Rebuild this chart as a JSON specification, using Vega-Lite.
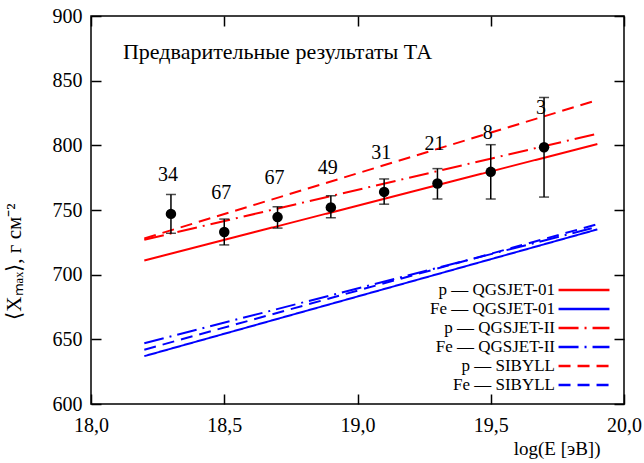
{
  "$schema": "https://vega.github.io/schema/vega-lite/v6.json",
  "width": 533,
  "height": 388,
  "autosize": {"type": "none"},
  "padding": {"left": 91, "top": 16, "right": 20, "bottom": 59},
  "background": "white",
  "config": {
    "font": "Liberation Serif, Times New Roman, serif",
    "view": {"stroke": "black", "strokeWidth": 1.5},
    "axis": {"grid": false, "labelFont": "Liberation Serif, Times New Roman, serif", "titleFont": "Liberation Serif, Times New Roman, serif", "labelFontSize": 20, "titleFontSize": 19, "labelColor": "black", "titleColor": "black", "titleFontWeight": "normal", "domain": false, "ticks": true, "tickColor": "black", "tickWidth": 1.5, "tickSize": 10, "offset": -10, "labelFlush": false}
  },
  "datasets": {
    "lines": [
      {"series": "p — QGSJET-01", "logE": 18.2, "xmax": 711},
      {"series": "p — QGSJET-01", "logE": 19.9, "xmax": 801},
      {"series": "Fe — QGSJET-01", "logE": 18.2, "xmax": 637},
      {"series": "Fe — QGSJET-01", "logE": 19.9, "xmax": 735},
      {"series": "p — QGSJET-II", "logE": 18.2, "xmax": 727},
      {"series": "p — QGSJET-II", "logE": 19.9, "xmax": 809},
      {"series": "Fe — QGSJET-II", "logE": 18.2, "xmax": 647},
      {"series": "Fe — QGSJET-II", "logE": 19.9, "xmax": 737},
      {"series": "p — SIBYLL", "logE": 18.2, "xmax": 728},
      {"series": "p — SIBYLL", "logE": 19.9, "xmax": 835},
      {"series": "Fe — SIBYLL", "logE": 18.2, "xmax": 642},
      {"series": "Fe — SIBYLL", "logE": 19.9, "xmax": 739}
    ],
    "points": [
      {"logE": 18.3, "xmax": 747, "lo": 732, "hi": 762, "n": "34"},
      {"logE": 18.5, "xmax": 733, "lo": 723, "hi": 743, "n": "67"},
      {"logE": 18.7, "xmax": 744.5, "lo": 736, "hi": 752.5, "n": "67"},
      {"logE": 18.9, "xmax": 752, "lo": 744, "hi": 761, "n": "49"},
      {"logE": 19.1, "xmax": 764, "lo": 754.5, "hi": 774, "n": "31"},
      {"logE": 19.3, "xmax": 770.5, "lo": 758.5, "hi": 782, "n": "21"},
      {"logE": 19.5, "xmax": 779.5, "lo": 758.5, "hi": 800.5, "n": "8"},
      {"logE": 19.7, "xmax": 798.5, "lo": 760, "hi": 837, "n": "3"}
    ]
  },
  "resolve": {"axis": {"x": "independent", "y": "independent"}},
  "layer": [
    {
      "data": {"name": "lines"},
      "mark": {"type": "line", "strokeWidth": 2},
      "encoding": {
        "x": {"field": "logE", "type": "quantitative", "scale": {"domain": [18, 20], "nice": false},
          "axis": {"values": [18, 18.5, 19, 19.5, 20], "labelPadding": 11, "labelExpr": "replace(format(datum.value, '.1f'), '.', ',')", "title": "log(E [эВ])", "titleAlign": "right", "titleBaseline": "middle", "titleX": 509, "titleY": 54}},
        "y": {"field": "xmax", "type": "quantitative", "scale": {"domain": [600, 900], "nice": false, "zero": false},
          "axis": {"values": [600, 650, 700, 750, 800, 850, 900], "labelPadding": 9, "title": "⟨Xₘₐₓ⟩, г см⁻²", "titleAnchor": "middle", "titleAlign": "center", "titleBaseline": "middle", "titleAngle": -90, "titleX": -87, "titleY": 245, "titleFontSize": 21}},
        "color": {"field": "series", "type": "nominal",
          "scale": {"domain": ["p — QGSJET-01", "Fe — QGSJET-01", "p — QGSJET-II", "Fe — QGSJET-II", "p — SIBYLL", "Fe — SIBYLL"], "range": ["#ff0000", "#0000ff", "#ff0000", "#0000ff", "#ff0000", "#0000ff"]},
          "legend": {"title": null, "orient": "none", "legendX": 482, "legendY": 263, "symbolType": "M-2.68,0H2.68", "symbolSize": 361, "symbolStrokeWidth": 2.5, "symbolFillColor": "transparent", "labelAlign": "right", "labelOffset": -40, "labelFontSize": 17, "labelFont": "Liberation Serif, Times New Roman, serif", "labelColor": "black", "rowPadding": 0, "padding": 0, "labelLimit": 300}},
        "strokeDash": {"field": "series", "type": "nominal",
          "scale": {"domain": ["p — QGSJET-01", "Fe — QGSJET-01", "p — QGSJET-II", "Fe — QGSJET-II", "p — SIBYLL", "Fe — SIBYLL"], "range": [[1, 0], [1, 0], [20, 6, 2, 6], [20, 6, 2, 6], [12, 7], [12, 7]]}}
      }
    },
    {
      "data": {"name": "points"},
      "mark": {"type": "rule", "color": "black", "strokeWidth": 1.5},
      "encoding": {
        "x": {"field": "logE", "type": "quantitative", "axis": {"orient": "top", "values": [18, 18.5, 19, 19.5, 20], "labels": false, "title": null}},
        "y": {"field": "lo", "type": "quantitative", "axis": {"orient": "right", "values": [600, 650, 700, 750, 800, 850, 900], "labels": false, "title": null}},
        "y2": {"field": "hi"}
      }
    },
    {
      "data": {"name": "points"},
      "mark": {"type": "tick", "color": "black", "orient": "horizontal", "size": 10, "thickness": 1.5},
      "encoding": {
        "x": {"field": "logE", "type": "quantitative", "axis": null},
        "y": {"field": "lo", "type": "quantitative", "axis": null}
      }
    },
    {
      "data": {"name": "points"},
      "mark": {"type": "tick", "color": "black", "orient": "horizontal", "size": 10, "thickness": 1.5},
      "encoding": {
        "x": {"field": "logE", "type": "quantitative", "axis": null},
        "y": {"field": "hi", "type": "quantitative", "axis": null}
      }
    },
    {
      "data": {"name": "points"},
      "mark": {"type": "point", "filled": true, "color": "black", "size": 110, "opacity": 1},
      "encoding": {
        "x": {"field": "logE", "type": "quantitative", "axis": null},
        "y": {"field": "xmax", "type": "quantitative", "axis": null}
      }
    },
    {
      "data": {"name": "points"},
      "mark": {"type": "text", "font": "Liberation Serif, Times New Roman, serif", "fontSize": 20, "color": "black", "dy": -39, "dx": -3, "baseline": "middle"},
      "encoding": {
        "x": {"field": "logE", "type": "quantitative", "axis": null},
        "y": {"field": "xmax", "type": "quantitative", "axis": null},
        "text": {"field": "n"}
      }
    },
    {
      "data": {"values": [{"label": "Предварительные результаты ТА"}]},
      "mark": {"type": "text", "font": "Liberation Serif, Times New Roman, serif", "fontSize": 22, "color": "black", "align": "left", "baseline": "middle"},
      "encoding": {
        "x": {"datum": 18.12, "type": "quantitative", "axis": null},
        "y": {"datum": 872, "type": "quantitative", "axis": null},
        "text": {"field": "label"}
      }
    }
  ]
}
